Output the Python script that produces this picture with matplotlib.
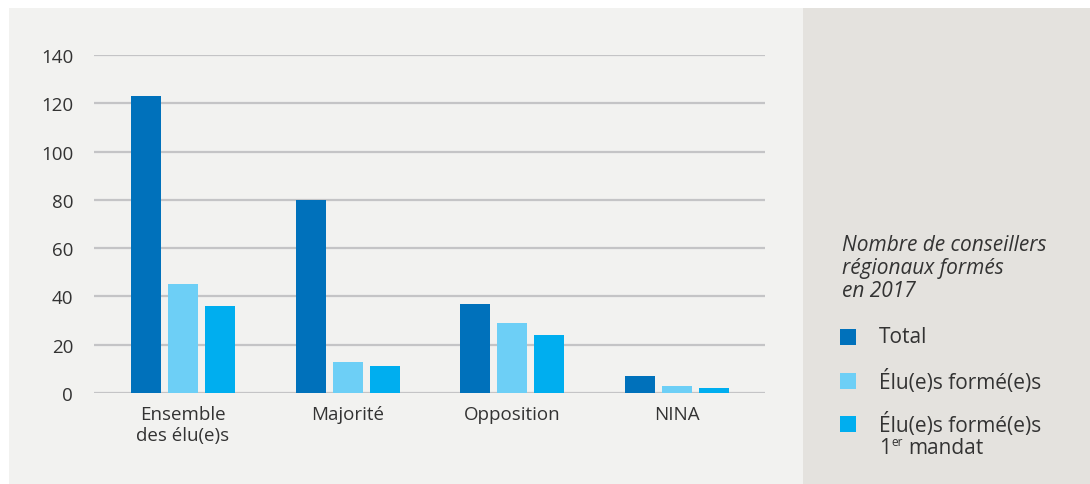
import matplotlib
matplotlib.use("Agg")
import matplotlib.pyplot as plt
from matplotlib.patches import Rectangle
import numpy as np

plt.rcParams['font.family'] = ['Open Sans', 'DejaVu Sans']

categories = ["Ensemble\ndes élu(e)s", "Majorité", "Opposition", "NINA"]
total = [123, 80, 37, 7]
formes = [45, 13, 29, 3]
formes_1er = [36, 11, 24, 2]
yticks = [0, 20, 40, 60, 80, 100, 120, 140]

series_colors = ["#0071bb", "#6dcff6", "#00aeef"]
text_color = "#333333"

W, H = 1090, 485
fig = plt.figure(figsize=(W / 100, H / 100), dpi=100)
fig.patch.set_facecolor("white")

# background panels
fig.add_artist(Rectangle((9 / W, 0), (803 - 9) / W, (H - 9) / H,
                         transform=fig.transFigure, facecolor="#f2f2f0",
                         edgecolor="none", zorder=0))
fig.add_artist(Rectangle((803 / W, 0), (W - 803) / W, (H - 9) / H,
                         transform=fig.transFigure, facecolor="#e4e2de",
                         edgecolor="none", zorder=0))

ax_l, ax_r = 94 / W, 765 / W
ax_top, ax_bot = 56 / H, 394 / H
ax = fig.add_axes([ax_l, 1 - ax_bot, ax_r - ax_l, ax_bot - ax_top])
ax.set_facecolor("none")

x = np.arange(len(categories))
step = 0.225
width = 0.182
for i, (vals, col) in enumerate(zip([total, formes, formes_1er], series_colors)):
    ax.bar(x + (i - 1) * step, vals, width=width, color=col, zorder=3)

ax.set_xlim(-0.54, 3.535)
ax.set_ylim(0, 140)
ax.set_yticks(yticks)
ax.set_yticklabels([str(v) for v in yticks])
ax.set_xticks(x)
ax.set_xticklabels(categories, linespacing=1.15)
ax.yaxis.grid(True, color="#c4c4c6", linewidth=1.6, zorder=1)
ax.set_axisbelow(True)
for s in ax.spines.values():
    s.set_visible(False)
ax.tick_params(axis="both", length=0, labelsize=13.5, colors=text_color)
ax.tick_params(axis="y", pad=15)
ax.tick_params(axis="x", pad=9)

# legend panel
fig.text(842 / W, 1 - 235 / H, "Nombre de conseillers\nrégionaux formés\nen 2017",
         style="italic", fontsize=15, color=text_color, va="top", ha="left",
         linespacing=1.12)

labels = ["Total", "Élu(e)s formé(e)s", "Élu(e)s formé(e)s"]
ys = [338, 382, 425]
for lab, y, col in zip(labels, ys, series_colors):
    fig.add_artist(Rectangle((840 / W, 1 - (y + 8) / H), 16 / W, 16 / H,
                             transform=fig.transFigure, facecolor=col,
                             edgecolor="none"))
    fig.text(879 / W, 1 - y / H, lab, fontsize=15, color=text_color,
             va="center", ha="left")
fig.text(879 / W, 1 - 448 / H, "1", fontsize=15, color=text_color,
         va="center", ha="left")
fig.text(891 / W, 1 - 443 / H, "er", fontsize=8.5, color=text_color,
         va="center", ha="left")
fig.text(908 / W, 1 - 448 / H, "mandat", fontsize=15, color=text_color,
         va="center", ha="left")

fig.savefig("out.png", dpi=100)
